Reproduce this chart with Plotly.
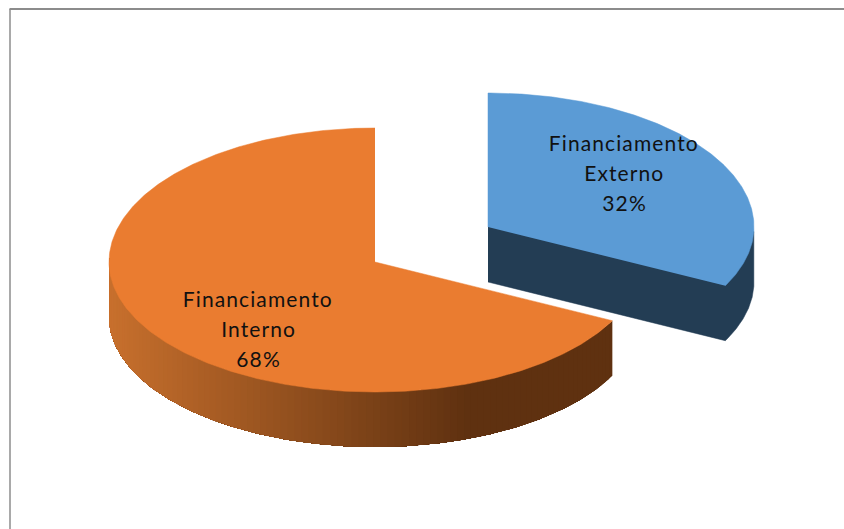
import numpy as np
import plotly.graph_objects as go

categories = ["Financiamento<br>Externo", "Financiamento<br>Interno"]
values = [32, 68]
top_colors = ["#5B9BD5", "#EA7C30"]
blue_side = "#233D54"
side_left = (200, 112, 45)
side_right = (95, 49, 16)

# projection of the tilted pie, in page pixels
W, H = 844, 529
RX, RY_BACK, RY_FRONT, DEPTH = 266, 134, 130, 55
SKEW = np.radians(2.0)
CENTERS = [(488, 227), (375, 262)]
LABEL_POS = [(624, 142), (258, 298)]
LINE = 30

fracs = np.array(values) / sum(values)
edges = np.concatenate([[0], np.cumsum(fracs)]) * 2 * np.pi


def project(cx, cy, t):
    t = np.asarray(t, dtype=float)
    p = t + SKEW * np.sin(t) ** 2
    c = np.cos(p)
    return cx + RX * np.sin(p), cy - np.where(c > 0, RY_BACK, RY_FRONT) * c


def rim(cx, cy, a0, a1, n=240):
    return project(cx, cy, np.linspace(a0, a1, n))


def poly(fig, x, y, color, lw=0.0):
    fig.add_trace(go.Scatter(x=list(x), y=list(y), mode="lines", fill="toself",
                             fillcolor=color, line=dict(color=color, width=lw),
                             hoverinfo="skip", showlegend=False))


fig = go.Figure()

# detached slice: dark cut face and outer wall as one outline, then top over it
cx, cy = CENTERS[0]
a0, a1 = edges[0], edges[1]
rx_, ry_ = rim(cx, cy, np.pi / 2, a1)
poly(fig,
     np.r_[cx, rx_[0], rx_, cx],
     np.r_[cy, ry_[0], ry_ + DEPTH, cy + DEPTH],
     blue_side, 0.5)
tx, ty = rim(cx, cy, a0, a1)
poly(fig, np.r_[cx, tx], np.r_[cy, ty], top_colors[0], 0.5)

# main slice: shaded wall, painted right to left, each piece running on to
# the far end of the wall so that no seams show between the shades
cx, cy = CENTERS[1]
a0, a1 = edges[1], edges[2]
wall = np.linspace(a0, 3 * np.pi / 2, 400)
xs, ys = project(cx, cy, wall)
x_min, x_max = cx - RX, 470
for i in range(0, len(wall) - 1, 4):
    s = np.clip((xs[i] - x_min) / (x_max - x_min), 0, 1)
    c = [round(side_left[k] + (side_right[k] - side_left[k]) * s) for k in range(3)]
    col = f"rgb({c[0]},{c[1]},{c[2]})"
    poly(fig, np.r_[xs[i:], xs[i:][::-1]], np.r_[ys[i:], ys[i:][::-1] + DEPTH], col)
tx, ty = rim(cx, cy, a0, a1, 400)
poly(fig, np.r_[cx, tx], np.r_[cy, ty], top_colors[1], 0.5)

# labels
annotations = []
for cat, val, (lx, ly) in zip(categories, values, LABEL_POS):
    for j, line in enumerate(cat.split("<br>") + [f"{val}%"]):
        annotations.append(dict(x=lx, y=ly + j * LINE, text=line, showarrow=False,
                                xanchor="center", yanchor="middle",
                                font=dict(family="Lato, Carlito, sans-serif", size=21, color="#111111")))

fig.update_layout(
    width=W, height=H, margin=dict(l=0, r=0, t=0, b=0),
    paper_bgcolor="white", plot_bgcolor="white", showlegend=False,
    xaxis=dict(range=[0, W], visible=False, fixedrange=True),
    yaxis=dict(range=[H, 0], visible=False, fixedrange=True),
    annotations=annotations,
    shapes=[
        dict(type="line", x0=9.5, x1=W, y0=9, y1=9, line=dict(color="#8c8c8c", width=2)),
        dict(type="line", x0=10, x1=10, y0=9, y1=H, line=dict(color="#8c8c8c", width=1.5)),
    ],
)
post = """
document.body.style.margin = '0';
document.querySelectorAll('.annotation-text').forEach(function (t) {
  t.style.letterSpacing = '1.1px';
});
"""
fig.write_html("out.html", config=dict(displayModeBar=False), post_script=post)
